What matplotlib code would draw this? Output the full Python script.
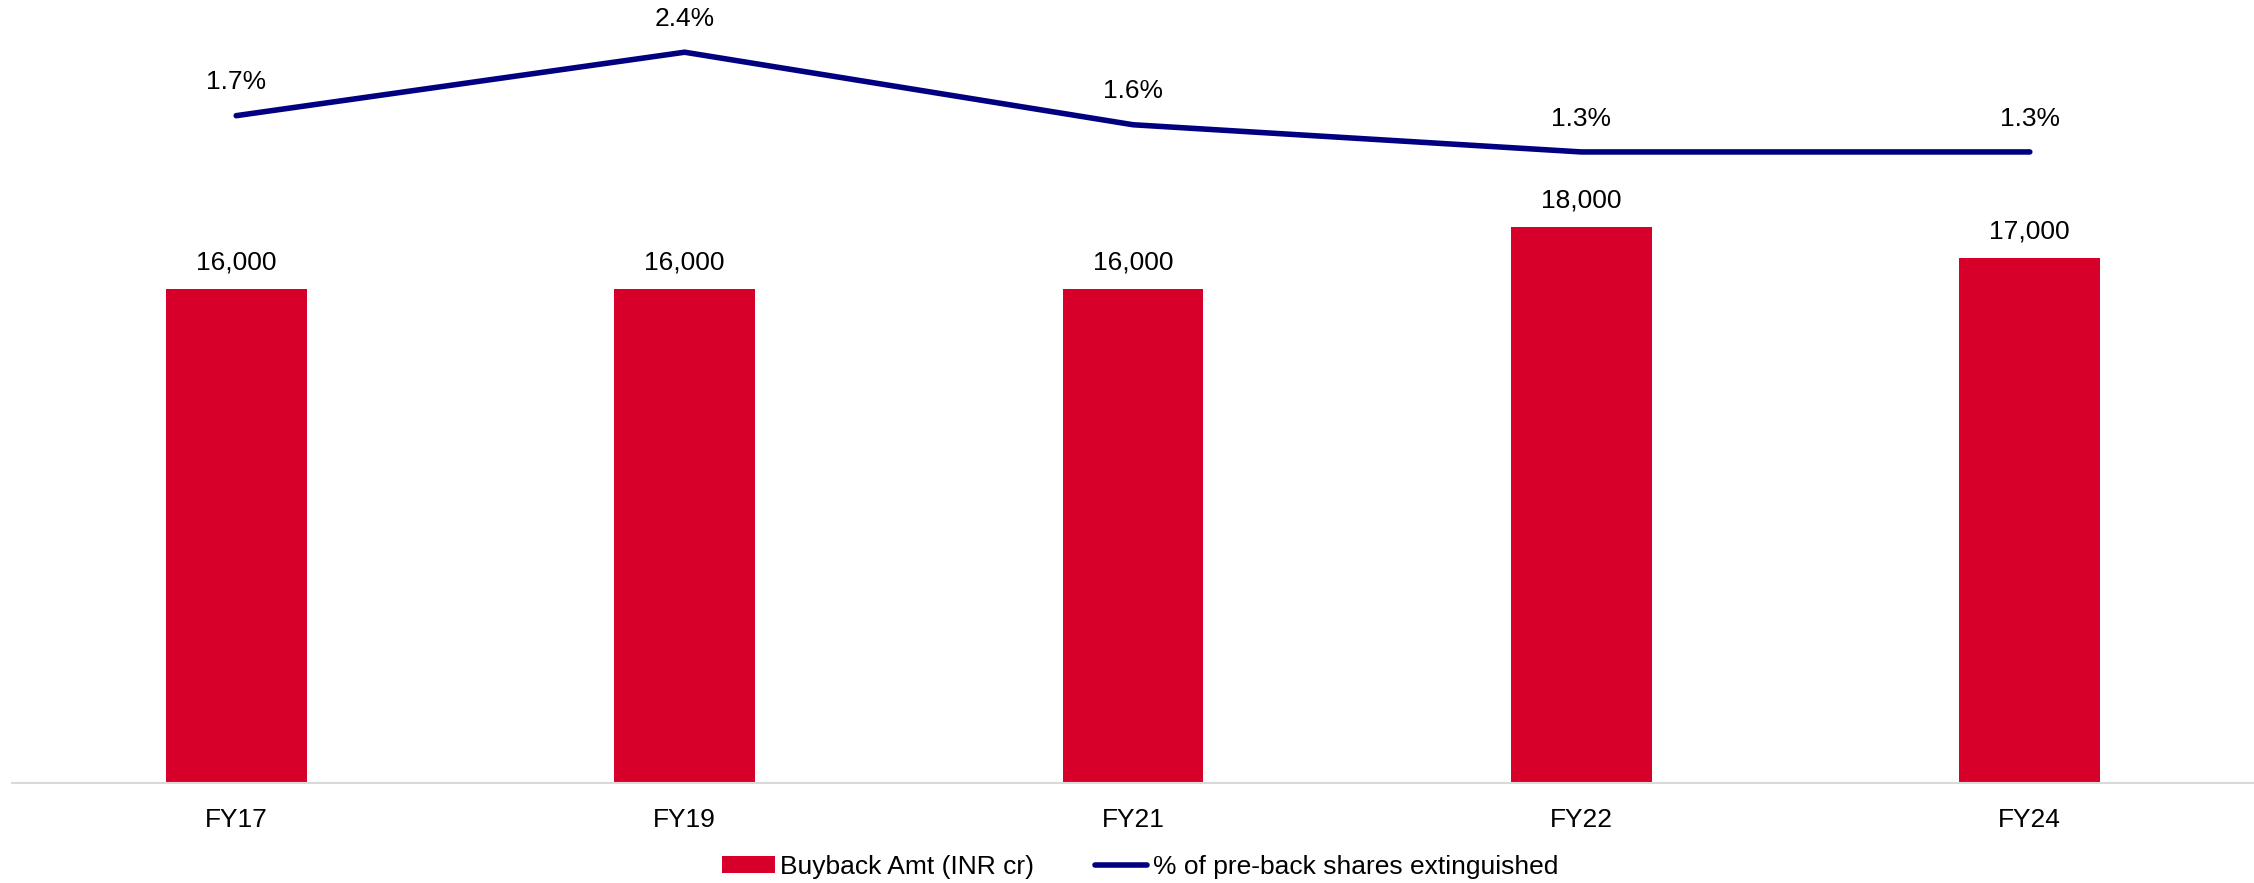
import matplotlib.pyplot as plt
import numpy as np

plt.rcParams['font.family'] = ['Liberation Sans', 'DejaVu Sans']

# Buyback history
years = ['FY17', 'FY19', 'FY21', 'FY22', 'FY24']
buyback_amt = [16000, 16000, 16000, 18000, 17000]   # INR cr
pct_extinguished = [1.7, 2.4, 1.6, 1.3, 1.3]        # % of pre-buyback shares

bar_color = '#D6002A'
line_color = '#000080'
fs = 19

fig = plt.figure(figsize=(22.54, 8.83), dpi=100)
ax = fig.add_axes([12 / 2254, 100 / 883, 2242 / 2254, 772.5 / 883])

x = np.arange(len(years))
bars = ax.bar(x, buyback_amt, width=0.314, color=bar_color,
              label='Buyback Amt (INR cr)')
ax.set_xlim(-0.5, len(years) - 0.5)
ax.set_ylim(0, 25000)

for rect, val in zip(bars, buyback_amt):
    ax.annotate(f'{val:,}', (rect.get_x() + rect.get_width() / 2, val),
                xytext=(0, 19), textcoords='offset points',
                ha='center', va='center', fontsize=fs)

ax.set_xticks(x)
ax.set_xticklabels(years, fontsize=fs)
ax.tick_params(axis='x', length=0, pad=18)
ax.set_yticks([])
for side in ['top', 'left', 'right']:
    ax.spines[side].set_visible(False)
ax.spines['bottom'].set_color('#D9D9D9')
ax.spines['bottom'].set_linewidth(1.5)

# Percentage line on its own scale
ax2 = ax.twinx()
line, = ax2.plot(x, pct_extinguished, color=line_color, lw=4,
                 solid_capstyle='round', solid_joinstyle='round',
                 label='% of pre-back shares extinguished')
ax2.set_ylim(-5.66, 2.86)
ax2.set_yticks([])
for side in ['top', 'left', 'right', 'bottom']:
    ax2.spines[side].set_visible(False)

for xi, val in zip(x, pct_extinguished):
    ax2.annotate(f'{val:.1f}%', (xi, val), xytext=(0, 24),
                 textcoords='offset points', ha='center', va='center',
                 fontsize=fs)

fig.legend(handles=[bars, line], loc='center',
           bbox_to_anchor=(1140 / 2254, 16 / 883), ncol=2, frameon=False,
           fontsize=fs, handlelength=2.0, handleheight=0.6,
           handletextpad=0.2, columnspacing=2.3)

fig.savefig('out.png', dpi=100)
